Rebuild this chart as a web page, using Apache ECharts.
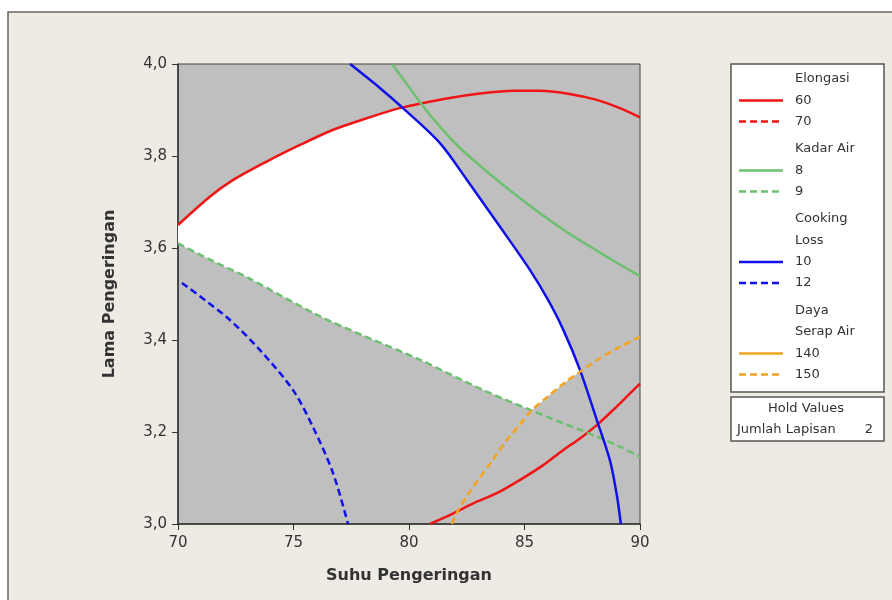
<!DOCTYPE html>
<html><head><meta charset="utf-8">
<script src="https://cdn.jsdelivr.net/npm/echarts@6/dist/echarts.min.js"></script>
<style>html,body{margin:0;padding:0;background:#fff}#c{width:892px;height:600px}</style>
</head><body><div id="c"></div>
<script>
// ---- data ----
const xTicks = [70, 75, 80, 85, 90];
const yTicks = [3.0, 3.2, 3.4, 3.6, 3.8, 4.0];
// Elongasi = 60 (two branches)
const elong60Top = [[70,3.650],[71.39,3.712],[72.39,3.748],[73.84,3.788],[75.28,3.824],[76.72,3.857],[78.17,3.882],[79.6,3.904],[81.63,3.925],[83.07,3.936],[84.52,3.942],[85.67,3.942],[86.83,3.936],[88.13,3.922],[89.13,3.904],[90,3.884]];
const elong60Bot = [[80.91,3.0],[81.92,3.023],[82.78,3.045],[83.80,3.067],[84.81,3.096],[85.81,3.128],[86.68,3.161],[87.40,3.186],[88.13,3.215],[88.84,3.248],[89.57,3.284],[90,3.305]];
// Kadar Air = 8 and 9
const kadar8 = [[79.26,4.0],[80.0,3.95],[80.5,3.915],[81.3,3.866],[82.3,3.813],[84.5,3.72],[86.7,3.639],[88.8,3.574],[90,3.539]];
const kadar9 = [[70,3.61],[71.5,3.572],[73,3.536],[76,3.455],[78,3.41],[80.48,3.357],[81.92,3.322],[83.36,3.288],[85.24,3.248],[86.68,3.219],[88.13,3.190],[89.13,3.168],[90,3.146]];
// Cooking Loss = 10 and 12
const cook10 = [[77.45,4.0],[78.74,3.948],[79.74,3.904],[81.34,3.828],[82.51,3.748],[83.94,3.646],[85.24,3.552],[86.02,3.487],[86.68,3.422],[87.40,3.335],[88.13,3.226],[88.70,3.138],[89.0,3.062],[89.17,3.0]];
const cook12 = [[70.17,3.524],[72.1,3.45],[73.55,3.378],[74.98,3.291],[75.84,3.211],[76.71,3.111],[77.36,3.0]];
// Daya Serap Air = 150 (140 lies outside the plotted area)
const daya150 = [[81.85,3.0],[82.13,3.030],[82.78,3.081],[83.51,3.131],[84.23,3.182],[84.81,3.217],[85.31,3.247],[85.96,3.275],[86.68,3.305],[87.40,3.331],[88.13,3.356],[89.13,3.385],[90,3.407]];
const daya140 = [];
const elong70 = [];
// legend content
const legendGroups = [
  {title:['Elongasi'], items:[['60','#f01414','solid'],['70','#f01414','dashed']]},
  {title:['Kadar Air'], items:[['8','#6cc070','solid'],['9','#6cc070','dashed']]},
  {title:['Cooking','Loss'], items:[['10','#1010e8','solid'],['12','#1010e8','dashed']]},
  {title:['Daya','Serap Air'], items:[['140','#f2a422','solid'],['150','#f2a422','dashed']]}
];
const holdLabel = 'Hold Values';
const holdName = 'Jumlah Lapisan';
const holdValue = '2';

// ---- helpers ----
function interp(arr, x){
  for(let i=0;i<arr.length-1;i++){
    const a=arr[i], b=arr[i+1];
    if((x>=a[0]&&x<=b[0])||(x<=a[0]&&x>=b[0])){
      const t=(b[0]===a[0])?0:(x-a[0])/(b[0]-a[0]);
      return a[1]+t*(b[1]-a[1]);
    }
  }
  return null;
}
function intersect(f,g){
  const lo=Math.max(f[0][0],g[0][0]), hi=Math.min(f[f.length-1][0],g[g.length-1][0]);
  let prev=null;
  for(let x=lo;x<=hi;x+=0.005){
    const d=interp(f,x)-interp(g,x);
    if(prev!==null && Math.sign(d)!==Math.sign(prev)) return [x, interp(f,x)];
    prev=d;
  }
  return null;
}
const A = intersect(elong60Top, cook10);
const B = intersect(cook10, daya150);
const C = intersect(daya150, kadar9);
const poly = [];
poly.push([70, interp(kadar9,70)]);
poly.push([70, interp(elong60Top,70)]);
elong60Top.forEach(p=>{ if(p[0]>70 && p[0]<A[0]) poly.push(p); });
poly.push(A);
cook10.forEach(p=>{ if(p[0]>A[0] && p[0]<B[0]) poly.push(p); });
poly.push(B);
daya150.slice().reverse().forEach(p=>{ if(p[0]<B[0] && p[0]>C[0]) poly.push(p); });
poly.push(C);
kadar9.slice().reverse().forEach(p=>{ if(p[0]<C[0] && p[0]>70) poly.push(p); });

const chart = echarts.init(document.getElementById('c'), null, {renderer:'canvas'});
const FONT = 'DejaVu Sans';
function lineSeries(name, data, color, dashed){
  return {type:'line', name, data, showSymbol:false, smooth:0.3, clip:true, z:5,
    lineStyle:{color, width:2.5, type: dashed?[7,4]:'solid'}};
}
// legend graphics
const gx = 731, gw = 153;
const els = [];
els.push({type:'rect', shape:{x:8,y:12,width:900,height:600}, style:{fill:'#eeeae4',stroke:'#6b6860',lineWidth:1.5}, z:-10});
els.push({type:'rect', shape:{x:gx,y:64,width:gw,height:328}, style:{fill:'#fff',stroke:'#555',lineWidth:1.5}});
let y = 79;
legendGroups.forEach(g=>{
  g.title.forEach(t=>{ els.push({type:'text', x:795, y:y, style:{text:t, font:'13px '+FONT, fill:'#333', textVerticalAlign:'middle'}}); y+=21.5; });
  g.items.forEach(it=>{
    els.push({type:'line', shape:{x1:739,y1:y,x2:783,y2:y}, style:{stroke:it[1], lineWidth:2.5, lineDash: it[2]==='dashed'?[7,4]:null}});
    els.push({type:'text', x:795, y:y, style:{text:it[0], font:'13px '+FONT, fill:'#333', textVerticalAlign:'middle'}});
    y+=21;
  });
  y+=6.5;
});
els.push({type:'rect', shape:{x:gx,y:397,width:gw,height:44}, style:{fill:'#fff',stroke:'#555',lineWidth:1.5}});
els.push({type:'text', x:806, y:409, style:{text:holdLabel, font:'13px '+FONT, fill:'#333', textAlign:'center', textVerticalAlign:'middle'}});
els.push({type:'text', x:737, y:430, style:{text:holdName, font:'13px '+FONT, fill:'#333', textVerticalAlign:'middle'}});
els.push({type:'text', x:873, y:430, style:{text:holdValue, font:'13px '+FONT, fill:'#333', textAlign:'right', textVerticalAlign:'middle'}});

chart.setOption({
  animation:false,
  backgroundColor:'#ffffff',
  graphic: els,
  grid:{left:178, top:64, width:462, height:460, show:true, backgroundColor:'#bfbfbf', borderColor:'#444', borderWidth:1},
  xAxis:{type:'value', min:xTicks[0], max:xTicks[xTicks.length-1], interval:xTicks[1]-xTicks[0],
    name:'Suhu Pengeringan', nameLocation:'middle', nameGap:44,
    nameTextStyle:{fontFamily:FONT, fontSize:16, fontWeight:'bold', color:'#333'},
    axisLine:{onZero:false, lineStyle:{color:'#333', width:1.5}},
    axisTick:{show:true, length:6, lineStyle:{color:'#333'}},
    axisLabel:{fontFamily:FONT, fontSize:15, color:'#333', margin:12},
    splitLine:{show:false}},
  yAxis:{type:'value', min:yTicks[0], max:yTicks[yTicks.length-1], interval:0.2,
    name:'Lama Pengeringan', nameLocation:'middle', nameGap:60,
    nameTextStyle:{fontFamily:FONT, fontSize:16, fontWeight:'bold', color:'#333'},
    axisLine:{onZero:false, lineStyle:{color:'#333', width:1.5}},
    axisTick:{show:true, length:6, lineStyle:{color:'#333'}},
    axisLabel:{fontFamily:FONT, fontSize:15, color:'#333', margin:11, formatter:v=>v.toFixed(1).replace('.',',')},
    splitLine:{show:false}},
  series:[
    {type:'custom', name:'feasible', clip:true, z:2, data:[0],
      renderItem:(params, api)=>({type:'polygon', shape:{points: poly.map(p=>api.coord(p))}, style:{fill:'#ffffff'}})},
    lineSeries('Elongasi 60 a', elong60Top, '#f01414', false),
    lineSeries('Elongasi 60 b', elong60Bot, '#f01414', false),
    lineSeries('Elongasi 70', elong70, '#f01414', true),
    lineSeries('Kadar Air 8', kadar8, '#6cc070', false),
    lineSeries('Kadar Air 9', kadar9, '#6cc070', true),
    lineSeries('Cooking Loss 10', cook10, '#1010e8', false),
    lineSeries('Cooking Loss 12', cook12, '#1010e8', true),
    lineSeries('Daya Serap Air 140', daya140, '#f2a422', false),
    lineSeries('Daya Serap Air 150', daya150, '#f2a422', true)
  ]
});
</script></body></html>
